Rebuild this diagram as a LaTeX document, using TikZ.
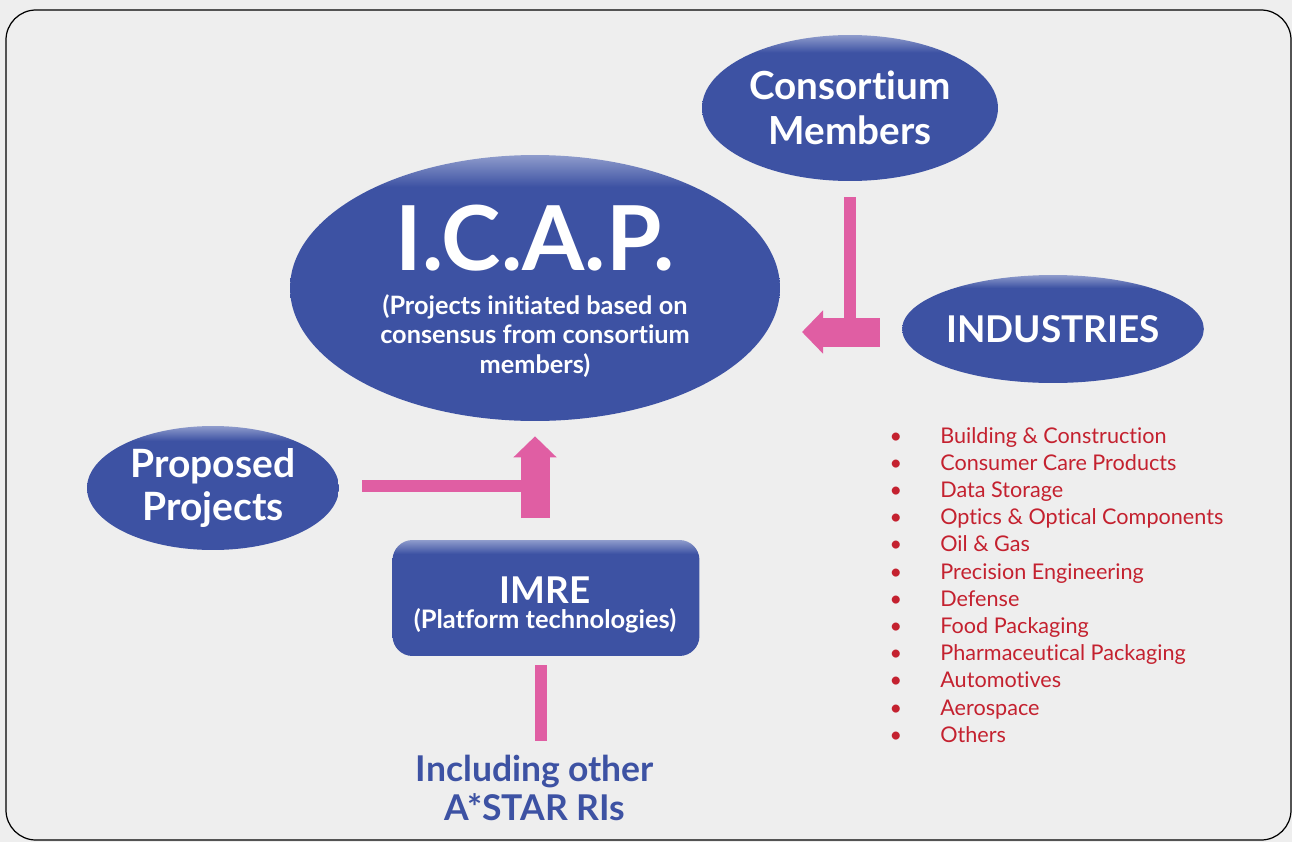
\documentclass[tikz,border=0pt]{standalone}
\usepackage{fontspec}
\setmainfont{Lato}[Ligatures={NoCommon, NoContextual}]
\usepackage{tikz}
\usetikzlibrary{arrows.meta, calc, positioning, shapes.geometric}

\definecolor{capblue}{HTML}{3D52A3}
\definecolor{caplight}{HTML}{8F9CCC}
\definecolor{linkpink}{HTML}{E05EA3}
\definecolor{listred}{HTML}{C4212F}
\definecolor{paper}{HTML}{EEEEEE}

% blue fill with a pale rim along the top
\pgfdeclareverticalshading{capsule}{100bp}{color(0bp)=(capblue); color(69bp)=(capblue); color(75bp)=(caplight); color(100bp)=(caplight)}

\tikzset{
  bubble/.style={ellipse, shade, shading=capsule, text=white, font=\bfseries, align=center, inner sep=0pt},
  platebox/.style={rectangle, rounded corners=0.4cm, shade, shading=capsule, text=white, font=\bfseries, align=center, inner sep=0pt},
  whitetext/.style={text=white, inner sep=0pt, align=center},
  thinbar/.style={linkpink, line width=0.24cm},
  fatarrow/.style={linkpink, line width=0.58cm, -{Triangle[length=0.42cm, width=0.84cm]}},
  listitem/.style={listred, anchor=base west, inner sep=0pt, font=\fontsize{12.3}{14}\selectfont},
}

\begin{document}
\begin{tikzpicture}[x=0.02cm, y=-0.02cm]
    \useasboundingbox (0,0) rectangle (1292,842);
    % 1. Nền xám và khung bo góc
    \fill[paper] (0,0) rectangle (1292,842);
    \draw[black, line width=0.7pt, rounded corners=0.6cm] (6,10) rectangle (1291,840);

    % 2. Các khối chính
    \node[bubble, minimum width=5.92cm, minimum height=2.92cm, font=\bfseries\fontsize{22}{25.5}\selectfont]
        (members) at (850,108) {Consortium\\Members};
    \node[bubble, minimum width=9.8cm, minimum height=5.32cm] (icap) at (535,288) {};
    \node[whitetext, font=\bfseries\fontsize{51}{51}\selectfont] (icaptitle) at (535,238) {I.C.A.P.};
    \node[whitetext, font=\bfseries\fontsize{14.4}{16.6}\selectfont] (icapnote) at (535,336)
        {(Projects initiated based on\\consensus from consortium\\members)};
    \node[bubble, minimum width=5.96cm, minimum height=2.16cm, font=\bfseries\fontsize{21}{24}\selectfont]
        (industries) at (1053,329) {INDUSTRIES};
    \node[bubble, minimum width=5.04cm, minimum height=2.48cm, font=\bfseries\fontsize{22.2}{25}\selectfont]
        (proposed) at (213,488) {Proposed\\Projects};
    \node[platebox, minimum width=6.14cm, minimum height=2.32cm] (imre) at (546,598) {};
    \node[whitetext, font=\bfseries\fontsize{21}{21}\selectfont] (imretext) at (545,605)
        {IMRE\\[-7pt]{\fontsize{14.5}{15}\selectfont (Platform technologies)}};
    \node[capblue, font=\bfseries\fontsize{20.2}{22.7}\selectfont, align=center, inner sep=0pt]
        (others) at (535,788) {Including other\\A*STAR RIs};

    % 3. Mũi tên hồng
    \coordinate (membersbend) at (850,332);
    \coordinate (proposedbend) at (535,486);
    \draw[thinbar] ($(members.south)+(0,16)$) -- ($(membersbend)+(0,-4)$);
    \draw[fatarrow] ($(industries.west)+(-22,3)$) -- ($(membersbend)+(-48,0)$);
    \draw[thinbar] ($(proposed.east)+(23,-2)$) -- (proposedbend);
    \draw[fatarrow] ($(proposedbend)+(0,32)$) -- ($(icap.south)+(0,15)$);
    \draw[thinbar] ($(imre.south)+(-5,9)$) -- ($(others.north)+(6,-13)$);

    % 4. Danh sách ngành
    \foreach \ind [count=\i] in {Building \& Construction, Consumer Care Products, Data Storage,
        Optics \& Optical Components, Oil \& Gas, Precision Engineering, Defense, Food Packaging,
        Pharmaceutical Packaging, Automotives, Aerospace, Others} {
        \node[listitem] (ind\i) at (940,{443+27.2*(\i-1)}) {\ind};
        \node[listitem, anchor=base] at (896,{443+27.2*(\i-1)}) {•};
    }
\end{tikzpicture}
\end{document}
